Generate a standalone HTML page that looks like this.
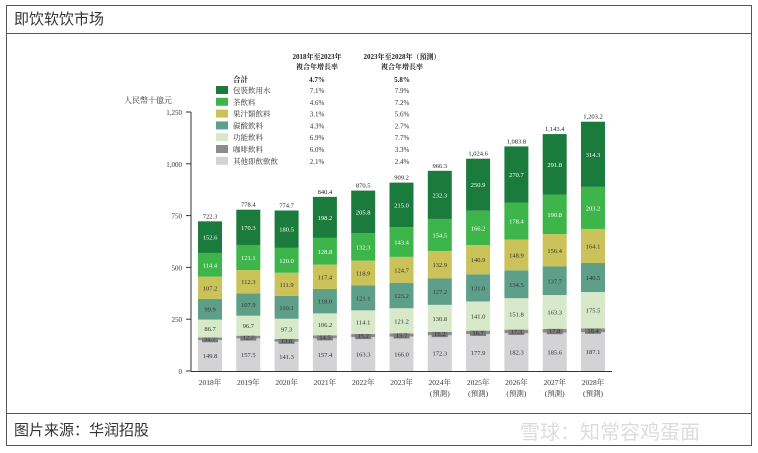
<!DOCTYPE html>
<html><head><meta charset="utf-8">
<style>
body{margin:0;background:#fff;font-family:"Liberation Serif","Noto Serif CJK SC",serif;}
#wrap{position:relative;width:758px;height:453px;overflow:hidden;}
</style></head>
<body>
<div id="wrap">
<svg id="svg" width="758" height="453" xmlns="http://www.w3.org/2000/svg">
<rect x="6.5" y="5.5" width="745" height="440" fill="none" stroke="#555"/>
<line x1="6" y1="33.5" x2="752" y2="33.5" stroke="#555"/>
<line x1="6" y1="413.5" x2="752" y2="413.5" stroke="#555"/>
<text x="14" y="24" font-size="15" fill="#333" font-family="Liberation Sans,Noto Sans CJK SC,sans-serif">即饮软饮市场</text>
<text x="14" y="435" font-size="15" fill="#333" font-family="Liberation Sans,Noto Sans CJK SC,sans-serif">图片来源：华润招股</text>
<text x="520" y="439" font-size="20" fill="#dcdcdc" font-family="Liberation Sans,Noto Sans CJK SC,sans-serif">雪球：知常容鸡蛋面</text>
<g id="plot"></g>
</svg>
</div>
<script>
const years=["2018年","2019年","2020年","2021年","2022年","2023年","2024年","2025年","2026年","2027年","2028年"];
const forecast=[false,false,false,false,false,false,true,true,true,true,true];
const other=[149.8,157.5,141.3,157.4,163.3,166.0,172.3,177.9,182.3,185.6,187.1];
const coffee=[11.7,12.7,13.6,14.5,15.2,15.7,16.2,16.7,17.3,17.8,18.4];
const functional=[86.7,96.7,97.3,106.2,114.1,121.2,130.8,141.0,151.8,163.3,175.5];
const carbonated=[99.9,107.9,110.1,118.0,121.1,123.2,127.2,131.0,134.5,137.7,140.5];
const juice=[107.2,112.3,111.9,117.4,118.9,124.7,132.9,140.9,148.9,156.4,164.1];
const tea=[114.4,121.1,120.0,128.8,132.3,143.4,154.5,166.2,178.4,190.8,203.2];
const water=[152.6,170.3,180.5,198.2,205.8,215.0,232.3,250.9,270.7,291.8,314.3];
const totals=[722.3,778.4,774.7,840.4,870.5,909.2,966.3,1024.6,1083.8,1143.4,1203.2];
const yTicks=[0,250,500,750,1000,1250];
const yTickLabels=["0","250","500","750","1,000","1,250"];
const legendNames=["包裝飲用水","茶飲料","果汁類飲料","碳酸飲料","功能飲料","咖啡飲料","其他即飲軟飲"];
const cagr1=["7.1%","4.6%","3.1%","4.3%","6.9%","6.0%","2.1%"];
const cagr2=["7.9%","7.2%","5.6%","2.7%","7.7%","3.3%","2.4%"];

const NS="http://www.w3.org/2000/svg";
const g=document.getElementById('plot');
function y(v){return 371-v*259/1250;}
function x(i){return 210+i*38.3;}
function fmt(v){const s=v.toFixed(1);const p=s.split('.');return p[0].replace(/\B(?=(\d{3})+(?!\d))/g,',')+'.'+p[1];}
const BW=24;
function mk(tag,attrs,txt){const e=document.createElementNS(NS,tag);for(const k in attrs)e.setAttribute(k,attrs[k]);if(txt!==undefined)e.textContent=txt;g.appendChild(e);return e;}
const series=[
 {d:other,c:"#d3d3d5",n:"other"},
 {d:coffee,c:"#8c8c8c",n:"coffee"},
 {d:functional,c:"#d7e9c9",n:"functional"},
 {d:carbonated,c:"#5e9f8a",n:"carbonated"},
 {d:juice,c:"#cbc25a",n:"juice"},
 {d:tea,c:"#3db54a",n:"tea"},
 {d:water,c:"#1b7b3c",n:"water"}];
const legendColors=["#1b7b3c","#3db54a","#cbc25a","#5e9f8a","#d7e9c9","#8c8c8c","#d3d3d5"];
let e=mk('line',{x1:191,y1:y(0),x2:191,y2:y(1250),stroke:"#333","stroke-width":1});

e=mk('line',{x1:191,y1:y(0)+0.5,x2:612,y2:y(0)+0.5,stroke:"#333","stroke-width":1});

yTicks.forEach((t,i)=>{
 let l=mk('line',{x1:186,y1:y(t),x2:191,y2:y(t),stroke:"#333"});
 
 let tx=mk('text',{x:182,y:y(t)+3,"font-size":7,"text-anchor":"end",fill:"#333"},yTickLabels[i]);
 
});
e=mk('text',{x:148,y:103,"font-size":8,fill:"#333","text-anchor":"middle"},"人民幣十億元");

years.forEach((yr,i)=>{
 let base=0;
 series.forEach((s,si)=>{
  const v=s.d[i];
  const r=mk('rect',{x:x(i)-BW/2,y:y(base+v),width:BW,height:y(base)-y(base+v),fill:s.c});
  
  const cy=(y(base)+y(base+v))/2+2.5;
  if(s.n==="coffee"){
   const b=mk('rect',{x:x(i)-8,y:cy-7,width:16,height:8,fill:"#7a7a7a"});
   
  }
  const t=mk('text',{x:x(i),y:cy,"font-size":6.5,"text-anchor":"middle",fill:(s.n==="water"||s.n==="tea")?"#fff":"#333"},v.toFixed(1));
  
  base+=v;
 });
 const tt=mk('text',{x:x(i),y:y(totals[i])-3,"font-size":6.5,"text-anchor":"middle",fill:"#222"},fmt(totals[i]));
 
 const xl=mk('text',{x:x(i),y:385,"font-size":7.5,"text-anchor":"middle",fill:"#333"},yr);
 
 if(forecast[i]){const f=mk('text',{x:x(i),y:396,"font-size":7.5,"text-anchor":"middle",fill:"#333"},"(預測)");
 }
});
e=mk('text',{x:317,y:59,"font-size":7,"font-weight":"bold","text-anchor":"middle",fill:"#222"},"2018年至2023年");

e=mk('text',{x:317,y:69,"font-size":7,"font-weight":"bold","text-anchor":"middle",fill:"#222"},"複合年增長率");

e=mk('text',{x:402,y:59,"font-size":7,"font-weight":"bold","text-anchor":"middle",fill:"#222"},"2023年至2028年（預測）");

e=mk('text',{x:402,y:69,"font-size":7,"font-weight":"bold","text-anchor":"middle",fill:"#222"},"複合年增長率");

e=mk('text',{x:233,y:82,"font-size":7.5,"font-weight":"bold",fill:"#222"},"合計");

e=mk('text',{x:317,y:82,"font-size":7,"font-weight":"bold","text-anchor":"middle",fill:"#222"},"4.7%");

e=mk('text',{x:402,y:82,"font-size":7,"font-weight":"bold","text-anchor":"middle",fill:"#222"},"5.8%");

legendNames.forEach((n,i)=>{
 const yy=86+i*11.8;
 const r=mk('rect',{x:216,y:yy,width:12,height:8,fill:legendColors[i]});
 
 const t=mk('text',{x:233,y:yy+7,"font-size":7.5,fill:"#333"},n);
 
 const a=mk('text',{x:317,y:yy+7,"font-size":7,"text-anchor":"middle",fill:"#333"},cagr1[i]);
 
 const b=mk('text',{x:402,y:yy+7,"font-size":7,"text-anchor":"middle",fill:"#333"},cagr2[i]);
 
});
</script>
</body></html>
